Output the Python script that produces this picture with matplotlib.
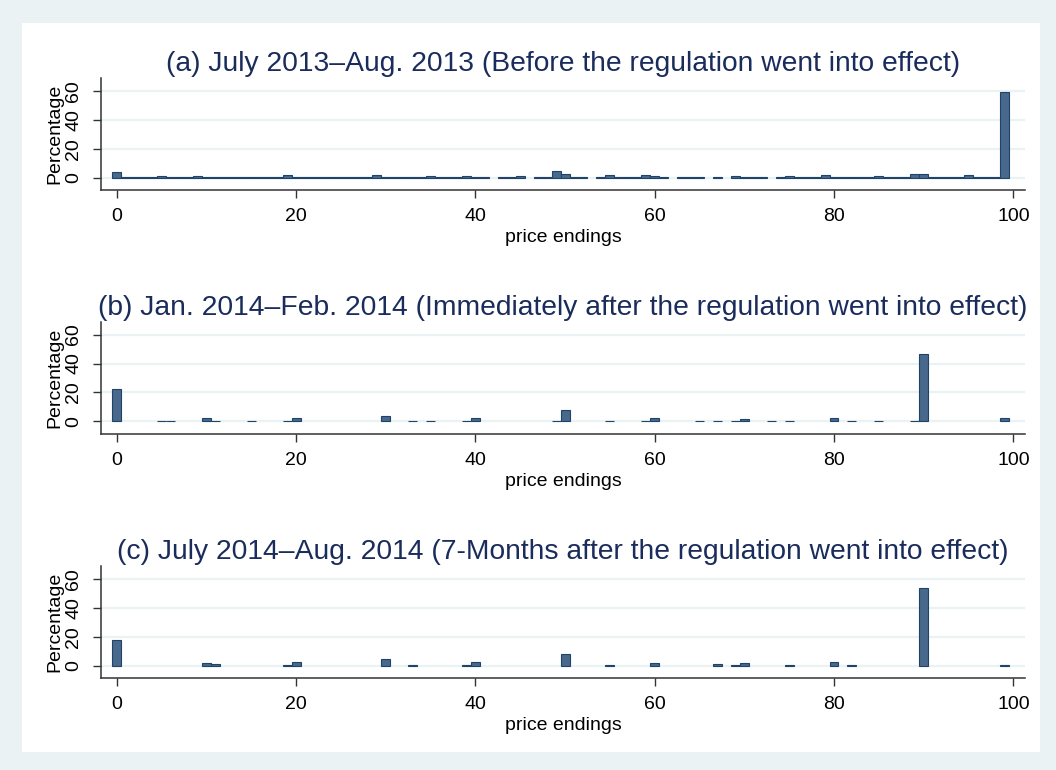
import matplotlib
matplotlib.use("Agg")
import matplotlib.pyplot as plt
from matplotlib.patches import Rectangle

plt.rcParams['font.family'] = ['Liberation Sans', 'DejaVu Sans']

# ---------------- data ----------------
titles = [
    "(a) July 2013\u2013Aug. 2013 (Before the regulation went into effect)",
    "(b) Jan. 2014\u2013Feb. 2014 (Immediately after the regulation went into effect)",
    "(c) July 2014\u2013Aug. 2014 (7-Months after the regulation went into effect)",
]

# panel (a): price endings and percentages
endings_a = [0, 1, 2, 3, 4, 5, 6, 7, 8, 9,
             10, 11, 12, 13, 14, 15, 16, 17, 18, 19,
             20, 21, 22, 23, 24, 25, 26, 27, 28, 29,
             30, 31, 32, 33, 34, 35, 36, 37, 38, 39,
             40, 41, 43, 44, 45, 47, 48, 49,
             50, 51, 52, 54, 55, 56, 57, 58, 59,
             60, 61, 63, 64, 65, 67, 69,
             70, 71, 72, 74, 75, 76, 77, 78, 79,
             80, 81, 82, 83, 84, 85, 86, 87, 88, 89,
             90, 91, 92, 93, 94, 95, 96, 97, 98, 99]
pct_a = [4.2, 0.3, 0.3, 0.3, 0.3, 1.2, 0.3, 0.3, 0.3, 1.2,
         0.3, 0.3, 0.3, 0.3, 0.3, 0.3, 0.3, 0.3, 0.3, 1.9,
         0.3, 0.3, 0.3, 0.3, 0.3, 0.3, 0.3, 0.3, 0.3, 1.9,
         0.3, 0.3, 0.3, 0.3, 0.3, 1.2, 0.3, 0.3, 0.3, 1.2,
         0.3, 0.3, 0.3, 0.3, 1.2, 0.3, 0.3, 4.7,
         2.3, 0.3, 0.3, 0.3, 1.9, 0.3, 0.3, 0.3, 1.6,
         1.2, 0.3, 0.3, 0.3, 0.3, 0.3, 1.4,
         0.3, 0.3, 0.3, 0.3, 1.2, 0.3, 0.3, 0.3, 1.9,
         0.3, 0.3, 0.3, 0.3, 0.3, 1.4, 0.3, 0.3, 0.3, 2.3,
         2.8, 0.3, 0.3, 0.3, 0.3, 1.9, 0.3, 0.3, 0.3, 59.0]

# panel (b)
endings_b = [0, 5, 6, 10, 11, 15, 19, 20, 30, 33, 35, 39, 40, 49, 50,
             55, 59, 60, 65, 67, 69, 70, 73, 75, 80, 82, 85, 89, 90, 99]
pct_b = [22.5, 0.4, 0.4, 2.0, 0.5, 0.4, 0.4, 2.0, 3.5, 0.4, 0.4, 0.4, 2.0, 0.5, 8.0,
         0.4, 0.4, 2.0, 0.4, 0.4, 0.4, 1.6, 0.4, 0.4, 2.0, 0.4, 0.4, 0.4, 46.3, 2.3]

# panel (c)
endings_c = [0, 10, 11, 19, 20, 30, 33, 39, 40, 50,
             55, 60, 67, 69, 70, 75, 80, 82, 90, 99]
pct_c = [17.5, 1.7, 1.0, 0.5, 2.6, 4.7, 0.3, 0.5, 2.6, 7.9,
         0.3, 2.1, 1.2, 0.4, 2.1, 0.4, 2.6, 0.4, 53.5, 0.4]

x_ticks = [0, 20, 40, 60, 80, 100]
y_ticks = [0, 20, 40, 60]
x_label = "price endings"
y_label = "Percentage"

# ---------------- styling ----------------
W, H = 1056, 770
bg = '#EAF2F3'
grid_c = '#EAF2F3'
bar_face = '#48698C'
bar_edge = '#1F4468'
title_c = '#1A2C5B'

fig = plt.figure(figsize=(W / 100, H / 100), dpi=100, facecolor=bg)
fig.patches.append(Rectangle((22 / W, 1 - 752 / H), (1040 - 22) / W, (752 - 23) / H,
                             transform=fig.transFigure, facecolor='white',
                             edgecolor='none', zorder=-10))

left = 101 / W
width = (1025 - 101) / W
ax_h = (190 - 78) / H
bottoms = [1 - 190 / H, 1 - 433.6 / H, 1 - 678 / H]

data = [(endings_a, pct_a), (endings_b, pct_b), (endings_c, pct_c)]

for i, ((xs, ys), ttl) in enumerate(zip(data, titles)):
    ax = fig.add_axes([left, bottoms[i], width, ax_h])
    ax.set_zorder(5)
    ax.patch.set_visible(False)
    ax.bar(xs, ys, width=1.0, color=bar_face, edgecolor=bar_edge, linewidth=0.8,
           zorder=3)
    ax.set_xlim(-1.75, 101.3)
    ax.set_ylim(-8.5, 69)
    ax.set_xticks(x_ticks)
    ax.set_yticks(y_ticks)
    ax.set_yticklabels([str(v) for v in y_ticks], rotation=90, va='center')
    ax.tick_params(axis='both', labelsize=14, length=6, width=1,
                   color='#333333', labelcolor='black')
    ax.tick_params(axis='y', pad=7.5)
    ax.tick_params(axis='x', pad=7)
    ax.grid(axis='y', color=grid_c, linewidth=1.6, zorder=1)
    ax.set_axisbelow(True)
    for s in ['top', 'right']:
        ax.spines[s].set_visible(False)
    for s in ['left', 'bottom']:
        ax.spines[s].set_color('#333333')
        ax.spines[s].set_linewidth(1.1)
    ax.set_xlabel(x_label, fontsize=14, labelpad=3)
    ax.set_ylabel(y_label, fontsize=14)
    ax.yaxis.set_label_coords(-0.0405, 0.5)
    ax.set_title(ttl, fontsize=20.3, color=title_c, pad=5)

fig.savefig('out.png', dpi=100, facecolor=bg)
